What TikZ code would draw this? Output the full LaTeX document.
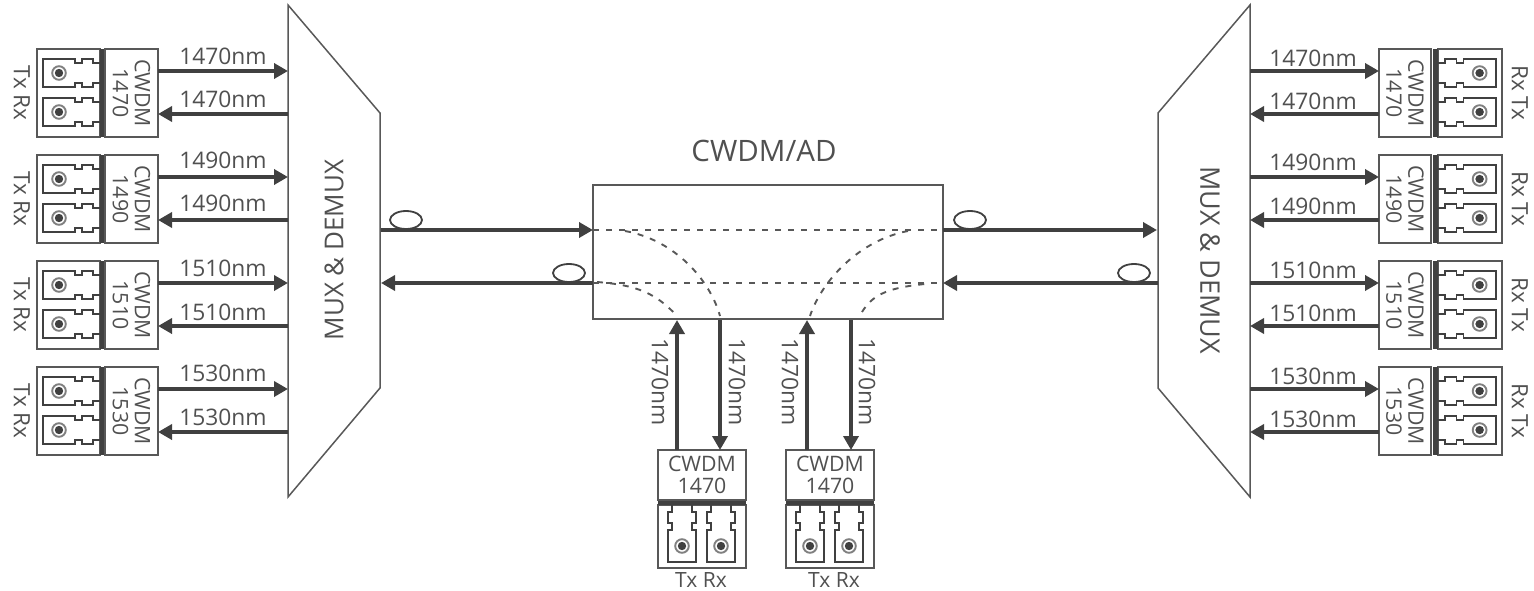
\documentclass[tikz,border=0pt]{standalone}
\usepackage{fontspec}
\setmainfont{Open Sans}
\usetikzlibrary{arrows.meta}
\definecolor{ink}{HTML}{505050}
\definecolor{dark}{HTML}{404040}
\definecolor{lineg}{HTML}{585858}
\tikzset{
  txt/.style={text=ink,inner sep=0pt,font=\fontsize{22.5}{24}\selectfont,align=center},
  lam/.style={txt,font=\fontsize{22.8}{24}\selectfont},
  big/.style={txt,font=\fontsize{27}{30}\selectfont},
  cw/.style={draw=lineg,line width=1.5pt,inner sep=0pt,text=ink,align=center,font=\fontsize{21.3}{22}\selectfont},
  boxline/.style={draw=lineg,line width=1.5pt},
  portline/.style={draw=dark,line width=1.4pt},
  arr/.style={draw=dark,line width=4pt,-{Triangle[length=14pt,width=15pt]}},
  dashline/.style={draw=lineg,line width=1.9pt,dash pattern=on 6pt off 7pt},
  fibre/.style={draw=dark,line width=1.8pt,fill=white},
}
\newcommand{\portset}{%
  \path[boxline] (0,0) rectangle (63,88);
  \fill[dark] (63,0) rectangle (68,88);
  \foreach \p in {10,49}{%
    \path[portline] (63,\p+4)--(56,\p+4)--(56,\p)--(45,\p)--(45,\p+4)--(38,\p+4)--(38,\p)--(6,\p)--(6,\p+28)--(38,\p+28)--(38,\p+24)--(45,\p+24)--(45,\p+28)--(56,\p+28)--(56,\p+24)--(63,\p+24);
    \draw[gray,line width=1.9pt] (22,\p+14) circle (6.8);
    \fill[dark] (22,\p+14) circle (4.2);
  }%
}
% left module: #1 top y, #2 wavelength, #3 name, #4 upper label y, #5 lower label y
\newcommand{\modL}[5]{%
  \begin{scope}[shift={(37,#1)}]\portset\end{scope}
  \node[cw,rotate=-90,minimum width=88pt,minimum height=53pt] (#3) at (131.5,#1+44) {CWDM\\#2};
  \coordinate (#3a) at (158,#1+22); \coordinate (#3b) at (158,#1+65);
  \coordinate (#3c) at (288,#1+22); \coordinate (#3d) at (288,#1+65);
  \draw[arr] (#3a)--(#3c);
  \draw[arr] (#3d)--(#3b);
  \node[lam] (#3l) at (223,#4) {#2nm};
  \node[lam] (#3m) at (223,#5) {#2nm};
  \node[txt,rotate=-90] (#3t) at (22,#1+44) {Tx Rx};
}
\newcommand{\modR}[5]{%
  \begin{scope}[shift={(1502,#1)},xscale=-1.017]\portset\end{scope}
  \node[cw,rotate=-90,minimum width=88pt,minimum height=52pt] (#3) at (1405,#1+44) {CWDM\\#2};
  \coordinate (#3a) at (1379,#1+22); \coordinate (#3b) at (1379,#1+65);
  \coordinate (#3c) at (1250,#1+22); \coordinate (#3d) at (1250,#1+65);
  \draw[arr] (#3c)--(#3a);
  \draw[arr] (#3b)--(#3d);
  \node[lam] (#3l) at (1313,#4) {#2nm};
  \node[lam] (#3m) at (1313,#5) {#2nm};
  \node[txt,rotate=-90] (#3t) at (1520,#1+44) {Rx Tx};
}
% bottom module: #1 left x, #2 name, #3 label x
\newcommand{\modB}[3]{%
  \begin{scope}[shift={(#1,568)},rotate=90]\portset\end{scope}
  \node[cw,minimum width=88pt,minimum height=50pt] (#2) at (#1+44,475) {CWDM\\1470};
  \node[txt,font=\fontsize{21}{23}\selectfont] (#2t) at (#3,580) {Tx Rx};
}
\begin{document}
\begin{tikzpicture}[x=1pt,y=-1pt]
\useasboundingbox (0,0) rectangle (1534,591);
% mux
\path[boxline] (288,5)--(380,113)--(380,388)--(288,497)--cycle;
\path[boxline] (1250,5)--(1158,113)--(1158,388)--(1250,497)--cycle;
\node[big,rotate=90,font=\fontsize{26}{28}\selectfont] (muxl) at (334,250) {MUX \& DEMUX};
\node[big,rotate=-90] (muxr) at (1210,260) {MUX \& DEMUX};
\coordinate (ml1) at (381,230); \coordinate (ml2) at (381,283);
\coordinate (mr1) at (1157,230); \coordinate (mr2) at (1158,283);
% modules
\modL{49}{1470}{la}{56}{99}
\modL{155}{1490}{lb}{160}{203}
\modL{261}{1510}{lc}{268}{312}
\modL{367}{1530}{ld}{373}{417}
\modR{49}{1470}{ra}{58}{101}
\modR{155}{1490}{rb}{162}{206}
\modR{261}{1510}{rc}{270}{313}
\modR{367}{1530}{rd}{376}{419}
% centre box
\node[boxline,minimum width=350pt,minimum height=134pt,inner sep=0pt] (ad) at (768,252) {};
\node[big,font=\fontsize{29.5}{32}\selectfont] (adt) at (764,151) {CWDM/AD};
\coordinate (a1) at (593,230); \coordinate (a2) at (593,283);
\coordinate (b1) at (943,230); \coordinate (b2) at (943,283);
% trunk
\draw[arr] (ml1)--(a1);
\draw[arr] (a2)--(ml2);
\draw[arr] (b1)--(mr1);
\draw[arr] (mr2)--(b2);
\draw[fibre] (406,220) ellipse (16 and 9);
\draw[fibre] (569,273) ellipse (16 and 9);
\draw[fibre] (970,220) ellipse (16 and 9);
\draw[fibre] (1134,273) ellipse (16 and 9);
% dashed
\path[dashline] (a1)--(b1);
\path[dashline] (a2)--(b2);
\path[dashline] (625,231) .. controls (675,240) and (710,280) .. (720,316);
\path[dashline] (597,282) .. controls (635,285) and (655,292) .. (677,316);
\path[dashline] (908,231) .. controls (860,240) and (822,280) .. (810,316);
\path[dashline] (862,312) .. controls (872,296) and (885,288) .. (925,284);
% bottom
\modB{658}{ba}{701}
\modB{786}{bb}{834}
\coordinate (p1) at (677,450); \coordinate (p1t) at (677,320);
\coordinate (p2) at (720,450); \coordinate (p2t) at (720,320);
\coordinate (p3) at (807,450); \coordinate (p3t) at (807,320);
\coordinate (p4) at (851,450); \coordinate (p4t) at (851,320);
\draw[arr] (p1)--(p1t);
\draw[arr] (p2t)--(p2);
\draw[arr] (p3)--(p3t);
\draw[arr] (p4t)--(p4);
\node[lam,rotate=-90] (v1) at (660,382) {1470nm};
\node[lam,rotate=-90] (v2) at (737,382) {1470nm};
\node[lam,rotate=-90] (v3) at (790,382) {1470nm};
\node[lam,rotate=-90] (v4) at (867,382) {1470nm};
\end{tikzpicture}
\end{document}
